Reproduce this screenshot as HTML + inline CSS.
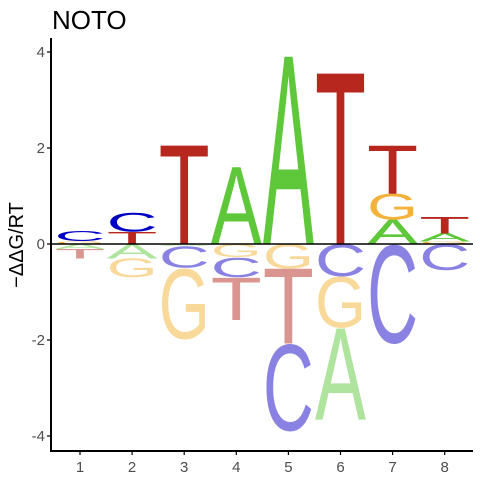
<!DOCTYPE html>
<html><head><meta charset="utf-8"><style>
html,body{margin:0;padding:0;background:#fff;}
svg{display:block;font-family:"Liberation Sans",sans-serif;}
</style></head><body>
<svg id="chart" width="480" height="480" viewBox="0 0 480 480">
<rect width="480" height="480" fill="#fff"/>
<text x="52" y="29" font-size="26" fill="#000">NOTO</text>
<text transform="translate(23,245) rotate(-90)" text-anchor="middle" font-size="20" fill="#000">−ΔΔG/RT</text>
<g id="letters"></g>
<g id="axes"></g>
</svg>
<script>
const positions = [1,2,3,4,5,6,7,8];
// each position: [letter, value] pairs, positive above zero, negative below
const stacks = [
  [["G",0.06],["C",0.22],["A",-0.1],["T",-0.2]],
  [["T",0.25],["C",0.4],["A",-0.3],["G",-0.4]],
  [["T",2.05],["A",-0.04],["C",-0.46],["G",-1.5]],
  [["A",1.6],["G",-0.28],["C",-0.42],["T",-0.88]],
  [["A",3.9],["G",-0.52],["T",-1.55],["C",-1.85]],
  [["T",3.55],["C",-0.68],["G",-1.08],["A",-1.9]],
  [["A",0.5],["G",0.55],["T",1.0],["C",-2.1]],
  [["G",0.05],["A",0.17],["T",0.35],["C",-0.55]]
];
const yTicks = [-4,-2,0,2,4];
const posColors = {A:"#5fc83a",C:"#0000c4",G:"#f4b23c",T:"#b8271e"};
const negColors = {A:"#aee49e",C:"#8a82e2",G:"#f9d99a",T:"#db9590"};
const NS="http://www.w3.org/2000/svg";
const X0=51, X1=473, Y0=244, PU=48, STEP=52.1, XBASE=80, LW=51;
function xs(p){return XBASE+(p-1)*STEP;}
function ys(v){return Y0 - v*PU;}
const g=document.getElementById('letters');
const CAP=68.8;
function drawLetter(ch,x,yTop,yBot,color,name){
  const h=yBot-yTop; if(h<=0.3) return;
  const t=document.createElementNS(NS,'text');
  
  
  t.setAttribute('font-size','100');
  t.setAttribute('textLength','100');
  t.setAttribute('lengthAdjust','spacingAndGlyphs');
  t.setAttribute('fill',color);
  const round=(ch==="C"||ch==="G");
  const gh=CAP+(round?3:0);
  const sy=h/gh, sx=LW/100;
  const off=round?1.5*sy:0;
  t.setAttribute('transform','translate('+(x-LW/2)+','+(yBot-off)+') scale('+sx+','+sy+')');
  t.textContent=ch;
  g.appendChild(t);
}
stacks.forEach((st,i)=>{
  const x=xs(positions[i]);
  let up=0, dn=0;
  st.forEach(([ch,v])=>{
    if(v>=0){ drawLetter(ch,x,ys(up+v),ys(up),posColors[ch],'letter-'+ch+'-pos'+positions[i]); up+=v; }
    else { drawLetter(ch,x,ys(dn),ys(dn+v),negColors[ch],'letter-'+ch+'-pos'+positions[i]+'-neg'); dn+=v; }
  });
});
const ax=document.getElementById('axes');
function line(x1,y1,x2,y2,w,name){
  const l=document.createElementNS(NS,'line');
  
  
  l.setAttribute('x1',x1);l.setAttribute('y1',y1);l.setAttribute('x2',x2);l.setAttribute('y2',y2);
  l.setAttribute('stroke','#000');l.setAttribute('stroke-width',w);
  ax.appendChild(l);
}
function label(x,y,s,anchor,name){
  const t=document.createElementNS(NS,'text');
  
  
  t.setAttribute('x',x);t.setAttribute('y',y);t.setAttribute('text-anchor',anchor);
  t.setAttribute('font-size','15');t.setAttribute('fill','#4d4d4d');
  t.textContent=s; ax.appendChild(t);
}
line(X0,ys(0),X1,ys(0),1.5,'zero-line');
line(X0,38,X0,452,2,'y-axis-line');
line(X0-1,451,X1,451,2,'x-axis-line');
yTicks.forEach(v=>{
  line(X0-4,ys(v),X0,ys(v),1.2,'y-tick');
  label(X0-6,ys(v)+5,String(v),'end','y-tick-label');
});
positions.forEach(p=>{
  line(xs(p),451,xs(p),455,1.2,'x-tick');
  label(xs(p),472,String(p),'middle','x-tick-label');
});
</script>
</body></html>
